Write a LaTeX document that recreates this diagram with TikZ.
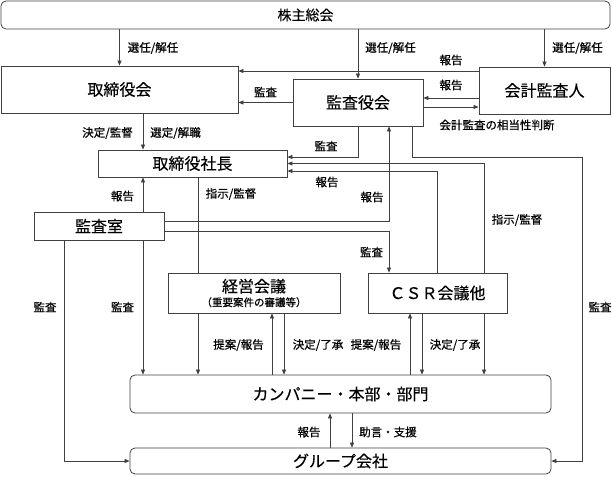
\documentclass[tikz,border=0pt]{standalone}
\usepackage{fontspec}
\setmainfont{Noto Sans CJK JP}[FakeBold=0.3]
\newfontfamily\lblfont{Noto Sans CJK JP}[FakeBold=0.6]
\usetikzlibrary{arrows.meta}
\tikzset{
  box/.style={draw=black!75, line width=0.8pt, inner sep=0pt, font=\fontsize{16}{18}\selectfont},
  rbox/.style={box, rounded corners=5pt},
  lbl/.style={inner sep=0pt, font=\lblfont\fontsize{11.5}{13}\selectfont},
  conn/.style={draw=black!75, line width=0.75pt},
  arr/.style={conn, -{Triangle[length=5pt,width=4pt]}},
}

\begin{document}
\begin{tikzpicture}[x=1pt,y=-1pt]
                \useasboundingbox (0,0) rectangle (612,476);
                \node[rbox, minimum width=609pt, minimum height=28pt, font=\fontsize{14}{16}\selectfont] (kabunushi) at (305.5,15) {株主総会};
                \node[box, minimum width=237pt, minimum height=47pt] (torishimari) at (119.5,89.5) {取締役会};
                \node[box, minimum width=130pt, minimum height=47pt] (kansayaku) at (358,102.5) {監査役会};
                \node[box, minimum width=131pt, minimum height=47pt] (kaikei) at (544.5,90.5) {会計監査人};
                \node[box, minimum width=189pt, minimum height=27pt] (shacho) at (192.5,163.5) {取締役社長};
                \node[box, minimum width=130pt, minimum height=28pt] (kansashitsu) at (99,226) {監査室};
                \node[box, minimum width=172pt, minimum height=40pt, align=center] (keiei) at (254,293)
                    {経営会議\\[-4pt]{\lblfont\fontsize{10.5}{12}\selectfont （重要案件の審議等）}};
                \node[box, minimum width=139pt, minimum height=40pt] (csr) at (437.5,293) {ＣＳＲ会議他};
                \node[rbox, minimum width=421pt, minimum height=38pt] (company) at (340.5,394) {カンパニー・本部・部門};
                \node[rbox, minimum width=421pt, minimum height=26pt] (group) at (340.5,461) {グループ会社};

                \draw[arr] (kabunushi.south -| torishimari.north) -- (torishimari.north);
                \draw[arr] (kabunushi.south -| kansayaku.north) -- (kansayaku.north);
                \draw[arr] (kabunushi.south -| kaikei.north) -- (kaikei.north);
                \draw[arr] (kaikei.west |- 0,71) -- (torishimari.east |- 0,71);
                \draw[arr] (kaikei.west |- 0,98) -- (kansayaku.east |- 0,98);
                \draw[arr] (kansayaku.east |- 0,107) -- (kaikei.west |- 0,107);
                \draw[arr] (kansayaku.west) -- (kansayaku.west -| torishimari.east);
                \draw[arr] (kansayaku.south) |- (shacho.east |- 0,157);
                \draw[arr] (kansayaku.south -| 412,0) |- (582,157) |- (group.east);
                \draw[arr] (csr.north -| 484,0) |- (shacho.east);
                \draw[arr] (csr.north) |- (shacho.east |- 0,171);
                \draw[arr] (torishimari.south -| 143,0) -- (shacho.north -| 143,0);
                \draw[arr] (kansashitsu.east |- 0,221) -| (kansayaku.south -| 389,0);
                \draw[arr] (kansashitsu.east |- 0,231) -| (csr.north -| 389,0);
                \draw[arr] (kansashitsu.north -| 143,0) -- (shacho.south -| 143,0);
                \draw[arr] (kansashitsu.south -| 64,0) |- (group.west);
                \draw[arr] (kansashitsu.south -| 143,0) -- (company.north -| 143,0);
                \draw[conn] (shacho.south -| 198,0) -- (keiei.north -| 198,0);
                \draw[arr] (keiei.south -| 198,0) -- (company.north -| 198,0);
                \draw[arr] (company.north -| 272,0) -- (keiei.south -| 272,0);
                \draw[arr] (keiei.south -| 284,0) -- (company.north -| 284,0);
                \draw[arr] (company.north -| 410,0) -- (csr.south -| 410,0);
                \draw[arr] (csr.south -| 422,0) -- (company.north -| 422,0);
                \draw[arr] (csr.south -| 484,0) -- (company.north -| 484,0);
                \draw[arr] (group.north -| 330,0) -- (company.south -| 330,0);
                \draw[arr] (company.south -| 352,0) -- (group.north -| 352,0);

                \node[lbl] (senA) at (153,48) {選任/解任};
                \node[lbl] (senB) at (390.5,48) {選任/解任};
                \node[lbl] (senC) at (577.5,48) {選任/解任};
                \node[lbl] (hokA) at (451,60) {報告};
                \node[lbl] (hokB) at (451,85) {報告};
                \node[lbl] (soto) at (497,125) {会計監査の相当性判断};
                \node[lbl] (kanA) at (265.5,92) {監査};
                \node[lbl] (kanB) at (326,146) {監査};
                \node[lbl] (kette) at (107.5,133) {決定/監督};
                \node[lbl] (sente) at (175.5,133) {選定/解職};
                \node[lbl] (hokC) at (327,182) {報告};
                \node[lbl] (hokD) at (122.5,196) {報告};
                \node[lbl] (shijA) at (231,194) {指示/監督};
                \node[lbl] (hokE) at (372,197) {報告};
                \node[lbl] (shijB) at (517,220) {指示/監督};
                \node[lbl] (kanC) at (371.5,252) {監査};
                \node[lbl] (kanD) at (45,307) {監査};
                \node[lbl] (kanE) at (122.5,307) {監査};
                \node[lbl] (kanF) at (600,307) {監査};
                \node[lbl] (teiA) at (238.5,345) {提案/報告};
                \node[lbl] (ketA) at (318,345) {決定/了承};
                \node[lbl] (teiB) at (376,345) {提案/報告};
                \node[lbl] (ketB) at (455,345) {決定/了承};
                \node[lbl] (hokF) at (309,432) {報告};
                \node[lbl] (jogen) at (388,432) {助言・支援};
            \end{tikzpicture}
\end{document}
